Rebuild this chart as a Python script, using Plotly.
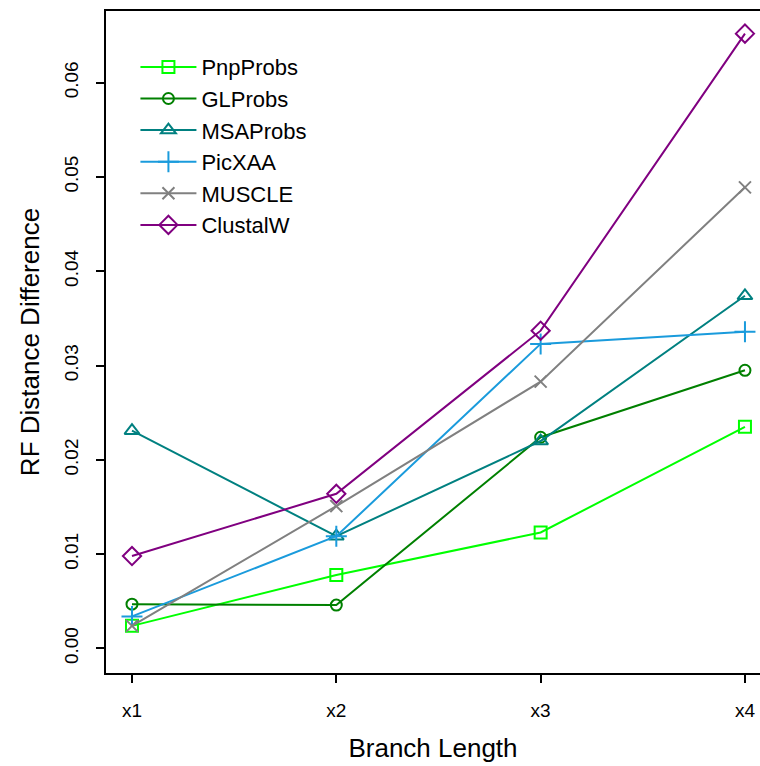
import plotly.graph_objects as go

categories = ["x1", "x2", "x3", "x4"]
pnpprobs = [0.0024, 0.0078, 0.0123, 0.0235]
glprobs = [0.0047, 0.0046, 0.0224, 0.0295]
msaprobs = [0.0231, 0.0119, 0.0220, 0.0374]
picxaa = [0.0034, 0.0119, 0.0323, 0.0336]
muscle = [0.0024, 0.0151, 0.0283, 0.0489]
clustalw = [0.0098, 0.0164, 0.0337, 0.0652]

y_ticks = [0.00, 0.01, 0.02, 0.03, 0.04, 0.05, 0.06]
y_ticktext = ["0.00", "0.01", "0.02", "0.03", "0.04", "0.05", "0.06"]

series = [
    ("PnpProbs", pnpprobs, "#00FF00", "square-open", 12),
    ("GLProbs", glprobs, "#008000", "circle-open", 11),
    ("MSAProbs", msaprobs, "#008080", "triangle-up-open", 13),
    ("PicXAA", picxaa, "#1A9BDC", "cross-thin-open", 15),
    ("MUSCLE", muscle, "#808080", "x-thin-open", 12),
    ("ClustalW", clustalw, "#800080", "diamond-open", 14),
]

fig = go.Figure()
for name, vals, color, sym, size in series:
    fig.add_trace(go.Scatter(
        x=categories, y=vals, name=name, mode="lines+markers",
        line=dict(color=color, width=2),
        marker=dict(symbol=sym, size=size, color=color, line=dict(color=color, width=2)),
    ))

font = "Liberation Sans, Arial, sans-serif"
fig.update_layout(
    width=760, height=766,
    margin=dict(l=106, r=0, t=11, b=93),
    paper_bgcolor="white", plot_bgcolor="white",
    font=dict(family=font, color="black"),
    showlegend=True,
    legend=dict(
        x=0.045, y=0.947, xanchor="left", yanchor="top",
        font=dict(size=22, family=font, color="black"),
        bgcolor="rgba(0,0,0,0)", borderwidth=0,
        tracegroupgap=0, itemwidth=56,
    ),
    xaxis=dict(
        type="category",
        range=[-0.1272, 3.0736],
        showline=True, linecolor="black", linewidth=1.5, mirror=True,
        ticks="outside", ticklen=8, tickwidth=1.5, tickcolor="black",
        tickfont=dict(size=19, family=font, color="black"),
        ticklabelstandoff=11,
        showgrid=False, zeroline=False,
        title=dict(text="Branch Length", font=dict(size=26, family=font, color="black"), standoff=19),
    ),
    yaxis=dict(
        range=[-0.0026, 0.0676],
        tickvals=y_ticks, ticktext=y_ticktext,
        showline=True, linecolor="black", linewidth=1.5, mirror=False,
        ticks="outside", ticklen=8, tickwidth=1.5, tickcolor="black",
        tickangle=-90,
        tickfont=dict(size=19, family=font, color="black"),
        ticklabelstandoff=11,
        showgrid=False, zeroline=False,
        title=dict(text="RF Distance Difference", font=dict(size=26, family=font, color="black"), standoff=14),
    ),
)

fig.write_html(
    "out.html",
    config={"displayModeBar": False},
    post_script="document.body.style.margin='0';document.documentElement.style.overflow='hidden';",
)
